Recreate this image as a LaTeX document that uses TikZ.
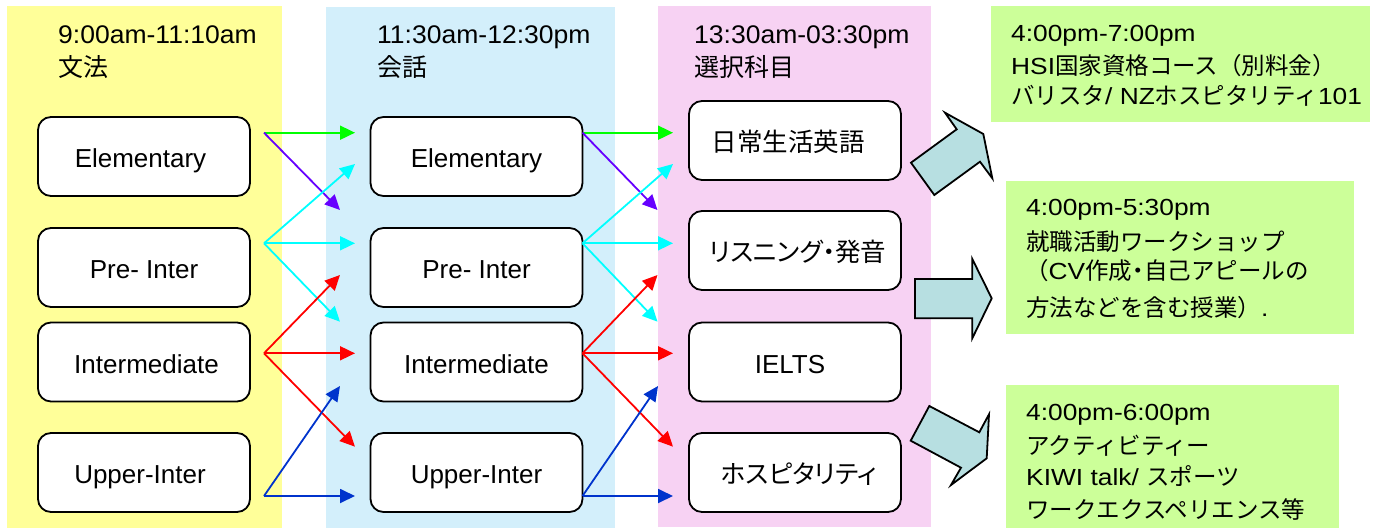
\documentclass[tikz,border=0pt]{standalone}
\usepackage{fontspec}
\setmainfont{Liberation Sans}
\newfontfamily\jp{Noto Sans CJK JP}
\newfontfamily\jpp[RawFeature=+palt]{Noto Sans CJK JP}
\newfontfamily\latw[FakeStretch=1.13]{Liberation Sans}
\newfontfamily\lath[FakeStretch=1.04]{Liberation Sans}
\usetikzlibrary{arrows.meta}
\definecolor{cyell}{HTML}{FFFF99}
\definecolor{cblue}{HTML}{D3EFFB}
\definecolor{cpink}{HTML}{F7D2F3}
\definecolor{cgreen}{HTML}{CCFF99}
\definecolor{carrow}{HTML}{B7DFE1}
\definecolor{agreen}{HTML}{00FF00}
\definecolor{apurple}{HTML}{6600FF}
\definecolor{acyan}{HTML}{00FFFF}
\definecolor{ared}{HTML}{FF0000}
\definecolor{ablue}{HTML}{0033CC}
\newcommand\GL[1]{{\latw\fontsize{23.3}{28}\selectfont #1}}
\tikzset{
  lvl/.style={draw=black, line width=1.8pt, fill=white, rounded corners=13pt,
    minimum width=212pt, minimum height=79pt, inner sep=0pt,
    text height=22.6pt, text depth=0pt, font=\fontsize{26}{30}\selectfont},
  lvljp/.style={lvl, font=\fontsize{25.5}{30}\selectfont\jpp},
  hdr/.style={anchor=base west, inner sep=0pt, font=\fontsize{25.5}{30}\selectfont\lath},
  hdrjp/.style={anchor=base west, inner sep=0pt, font=\fontsize{25}{30}\selectfont\jp},
  gtext/.style={anchor=base west, inner sep=0pt, font=\fontsize{23.5}{28}\selectfont\jp},
  conn/.style={line width=1.8pt, -{Triangle[length=15pt,width=14pt]}},
  blockarrow/.style={draw=black, fill=carrow, line width=1.8pt, line join=miter},
}
\begin{document}
\begin{tikzpicture}[x=1pt,y=-1pt]
\useasboundingbox (0,0) rectangle (1373,530);
% column backgrounds
\fill[cyell] (7,6) rectangle (282,528);
\fill[cblue] (326,7) rectangle (615,528);
\fill[cpink] (658,6) rectangle (931,527);
% green boxes
\fill[cgreen] (991,6) rectangle (1370,122);
\fill[cgreen] (1006,181) rectangle (1354,334);
\fill[cgreen] (1006,385) rectangle (1339,528);
% headers
\node[hdr] (h1) at (58,43.3) {9:00am-11:10am};
\node[hdrjp] (h1j) at (58,76.5) {文法};
\node[hdr] (h2) at (377,43.3) {11:30am-12:30pm};
\node[hdrjp] (h2j) at (377,76.5) {会話};
\node[hdr] (h3) at (694,43.3) {13:30am-03:30pm};
\node[hdrjp] (h3j) at (694,76.5) {選択科目};
% column 1
\node[lvl] (a1) at (144,156.5) {\hspace*{-7pt}Elementary};
\node[lvl] (a2) at (144,267.5) {Pre- Inter};
\node[lvl] (a3) at (144,362) {\hspace*{5pt}Intermediate};
\node[lvl] (a4) at (144,472.5) {\hspace*{-8pt}Upper-Inter};
% column 2
\node[lvl] (b1) at (476.5,156.5) {Elementary};
\node[lvl] (b2) at (476.5,267.5) {Pre- Inter};
\node[lvl] (b3) at (476.5,362) {Intermediate};
\node[lvl] (b4) at (476.5,472.5) {Upper-Inter};
% column 3
\node[lvljp] (c1) at (795,140.5) {\hspace*{-14pt}日常生活英語};
\node[lvljp] (c2) at (795,250.5) {\hspace*{6pt}リスニング・発音};
\node[lvl] (c3) at (795,362) {\hspace*{-10pt}IELTS};
\node[lvljp] (c4) at (795,472.5) {\hspace*{8pt}ホスピタリティ};
% connector end points, column 1 -> 2
\coordinate (s1) at (264,132.7);
\coordinate (s2) at (264,243.3);
\coordinate (s3) at (264,353.3);
\coordinate (s4) at (264,496);
\coordinate (t11) at (355,132.7);
\coordinate (t12) at (340,210);
\coordinate (t21) at (355,164);
\coordinate (t22) at (355,243.3);
\coordinate (t23) at (340,321.7);
\coordinate (t31) at (340,275);
\coordinate (t32) at (355,353.3);
\coordinate (t33) at (355,446.7);
\coordinate (t41) at (340,386);
\coordinate (t42) at (355,496);
% column 2 -> 3
\coordinate (u1) at (582.5,132.7);
\coordinate (u2) at (582.5,243.3);
\coordinate (u3) at (582.5,353.3);
\coordinate (u4) at (582.5,496);
\coordinate (v11) at (673,132.7);
\coordinate (v12) at (657.5,210);
\coordinate (v21) at (673,164);
\coordinate (v22) at (673,243.3);
\coordinate (v23) at (657.5,321.7);
\coordinate (v31) at (657.5,275);
\coordinate (v32) at (673,353.3);
\coordinate (v33) at (673,446.7);
\coordinate (v41) at (658,386);
\coordinate (v42) at (673,496);
% arrows
\draw[conn, agreen] (s1) -- (t11);
\draw[conn, apurple] (s1) -- (t12);
\draw[conn, acyan] (s2) -- (t21);
\draw[conn, acyan] (s2) -- (t22);
\draw[conn, acyan] (s2) -- (t23);
\draw[conn, ared] (s3) -- (t31);
\draw[conn, ared] (s3) -- (t32);
\draw[conn, ared] (s3) -- (t33);
\draw[conn, ablue] (s4) -- (t41);
\draw[conn, ablue] (s4) -- (t42);
\draw[conn, agreen] (u1) -- (v11);
\draw[conn, apurple] (u1) -- (v12);
\draw[conn, acyan] (u2) -- (v21);
\draw[conn, acyan] (u2) -- (v22);
\draw[conn, acyan] (u2) -- (v23);
\draw[conn, ared] (u3) -- (v31);
\draw[conn, ared] (u3) -- (v32);
\draw[conn, ared] (u3) -- (v33);
\draw[conn, ablue] (u4) -- (v41);
\draw[conn, ablue] (u4) -- (v42);
% block arrows
\draw[blockarrow] (911,162.7) -- (956.7,129.3) -- (945,112.7) -- (983.3,134) -- (992.3,178.3) -- (980,161.7) -- (934.3,195) -- cycle;
\draw[blockarrow] (915,279) -- (972.3,279) -- (972.3,259) -- (991.7,298.3) -- (972.3,338.3) -- (972.3,318.3) -- (915,318.3) -- cycle;
\draw[blockarrow] (929.3,406) -- (979.3,432.3) -- (989,414.3) -- (986.7,458.3) -- (951,485) -- (961,467.7) -- (910.7,440.7) -- cycle;
% green box texts
\node[gtext] (g11) at (1011,41.3) {\GL{4:00pm-7:00pm}};
\node[gtext] (g12) at (1011,74.7) {\GL{HSI}国家資格コース（別料金）};
\node[gtext] (g13) at (1011,104) {バリスタ\GL{/ NZ}ホスピタリティ\GL{101}};
\node[gtext] (g21) at (1026,215) {\GL{4:00pm-5:30pm}};
\node[gtext] (g22) at (1026,250) {就職活動ワークショップ};
\node[gtext] (g23) at (1025,279.3) {（\GL{CV}作成{\jpp ・}自己アピールの};
\node[gtext] (g24) at (1026,316.5) {方法などを含む授業）\GL{.}};
\node[gtext] (g31) at (1026,420) {\GL{4:00pm-6:00pm}};
\node[gtext] (g32) at (1026,454) {アクティビティー};
\node[gtext] (g33) at (1026,485) {\GL{KIWI talk/ }スポーツ};
\node[gtext] (g34) at (1026,518) {ワークエクスペリエンス等};
\end{tikzpicture}
\end{document}
